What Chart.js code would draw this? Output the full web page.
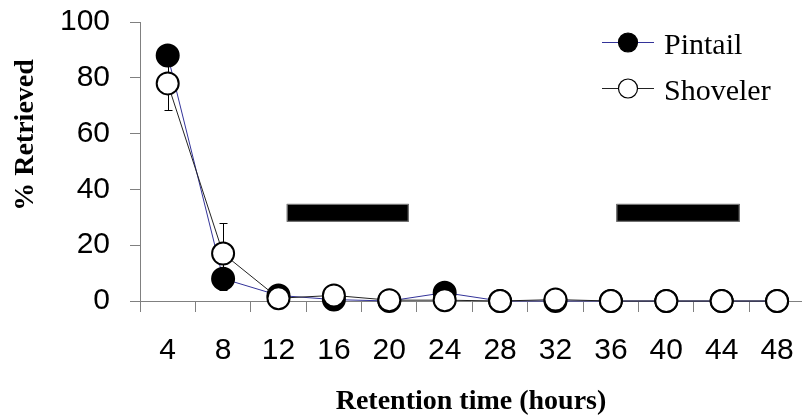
<!DOCTYPE html>
<html>
<head>
<meta charset="utf-8">
<title>% Retrieved by retention time</title>
<script src="https://cdn.jsdelivr.net/npm/chart.js@4.4.1/dist/chart.umd.min.js"></script>
<style>
  html, body { margin: 0; padding: 0; background: #ffffff; }
  #chart { display: block; }
</style>
</head>
<body>
<canvas id="chart" width="802" height="419"></canvas>
<script>
const hours = [4, 8, 12, 16, 20, 24, 28, 32, 36, 40, 44, 48];
const pintail = [88, 8, 2, 0.5, 0, 3, 0, 0, 0, 0, 0, 0];
const pintailErr = [3.5, 4, 0, 0, 0, 0, 0, 0, 0, 0, 0, 0];
const shoveler = [78, 17, 1, 2, 0.3, 0.3, 0, 0.5, 0, 0, 0, 0];
const shovelerErr = [9.6, 10.8, 0, 0, 0, 0, 0, 0, 0, 0, 0, 0];

// dark periods (hours from / to) and their vertical span in % units
const darkStart = [12.6, 36.4];
const darkEnd = [21.4, 45.3];
const darkLow = [28.4, 28.4];
const darkHigh = [34.8, 34.8];

const yTicks = [0, 20, 40, 60, 80, 100];
const xTickMarks = [2, 4, 6, 8, 10, 12, 14, 16, 18, 20, 22, 24, 26, 28, 30, 32, 34, 36, 38, 40, 42, 44, 46, 48];

const axisGray = "#808080";
const serif = "'Liberation Serif', 'Times New Roman', serif";
const sans = "'Liberation Sans', Arial, sans-serif";

function toPoints(values) {
  return values.map((v, i) => ({ x: hours[i], y: v }));
}

const darkBarsPlugin = {
  id: "darkBars",
  beforeDatasetsDraw(chart) {
    const ctx = chart.ctx;
    const x = chart.scales.x;
    const y = chart.scales.y;
    ctx.save();
    darkStart.forEach((start, i) => {
      const left = x.getPixelForValue(start);
      const right = x.getPixelForValue(darkEnd[i]);
      const top = y.getPixelForValue(darkHigh[i]);
      const bottom = y.getPixelForValue(darkLow[i]);
      ctx.fillStyle = "#000000";
      ctx.fillRect(left, top, right - left, bottom - top);
      ctx.strokeStyle = axisGray;
      ctx.lineWidth = 1;
      ctx.strokeRect(left + 0.5, top + 0.5, right - left - 1, bottom - top - 1);
    });
    ctx.restore();
  }
};

const errorBarsPlugin = {
  id: "errorBars",
  beforeDatasetsDraw(chart) {
    const ctx = chart.ctx;
    const x = chart.scales.x;
    const y = chart.scales.y;
    ctx.save();
    ctx.strokeStyle = "#000000";
    ctx.lineWidth = 1;
    chart.data.datasets.forEach(ds => {
      ds.errors.forEach((err, i) => {
        if (!err) return;
        const px = Math.round(x.getPixelForValue(hours[i])) + 0.5;
        const hi = y.getPixelForValue(ds.values[i] + err);
        const lo = y.getPixelForValue(ds.values[i] - err);
        ctx.beginPath();
        ctx.moveTo(px, hi);
        ctx.lineTo(px, lo);
        ctx.moveTo(px - 4, Math.round(hi) + 0.5);
        ctx.lineTo(px + 4, Math.round(hi) + 0.5);
        ctx.moveTo(px - 4, Math.round(lo) + 0.5);
        ctx.lineTo(px + 4, Math.round(lo) + 0.5);
        ctx.stroke();
      });
    });
    ctx.restore();
  }
};

const labelsPlugin = {
  id: "labelsAndLegend",
  afterDraw(chart) {
    const ctx = chart.ctx;
    const area = chart.chartArea;
    ctx.save();

    // axis titles
    ctx.fillStyle = "#000000";
    ctx.font = "bold 28px " + serif;
    ctx.textAlign = "center";
    ctx.textBaseline = "alphabetic";
    ctx.fillText("Retention time (hours)", (area.left + area.right) / 2, 409);

    ctx.save();
    ctx.translate(33, 135);
    ctx.rotate(-Math.PI / 2);
    ctx.fillText("% Retrieved", 0, 0);
    ctx.restore();

    // legend
    const rows = [42, 88];
    chart.data.datasets.forEach((ds, i) => {
      const ry = rows[i] + 0.5;
      ctx.strokeStyle = ds.borderColor;
      ctx.lineWidth = 1;
      ctx.beginPath();
      ctx.moveTo(602, ry);
      ctx.lineTo(654, ry);
      ctx.stroke();

      ctx.beginPath();
      ctx.arc(628, ry, 9.5, 0, Math.PI * 2);
      ctx.fillStyle = ds.pointBackgroundColor;
      ctx.fill();
      ctx.strokeStyle = "#000000";
      ctx.lineWidth = 1.2;
      ctx.stroke();

      ctx.fillStyle = "#000000";
      ctx.font = "30px " + serif;
      ctx.textAlign = "left";
      ctx.fillText(ds.label, 664, rows[i] + 12);
    });

    ctx.restore();
  }
};

new Chart(document.getElementById("chart"), {
  type: "line",
  data: {
    datasets: [
      {
        label: "Pintail",
        data: toPoints(pintail),
        values: pintail,
        errors: pintailErr,
        borderColor: "#333399",
        borderWidth: 1,
        pointRadius: 11,
        pointBorderWidth: 2,
        pointBackgroundColor: "#000000",
        pointBorderColor: "#000000",
        clip: false,
        order: 2
      },
      {
        label: "Shoveler",
        data: toPoints(shoveler),
        values: shoveler,
        errors: shovelerErr,
        borderColor: "#222222",
        borderWidth: 1,
        pointRadius: 11,
        pointBorderWidth: 2,
        pointBackgroundColor: "#ffffff",
        pointBorderColor: "#000000",
        clip: false,
        order: 1
      }
    ]
  },
  options: {
    responsive: false,
    animation: false,
    devicePixelRatio: 1,
    layout: { autoPadding: false, padding: { top: 22, right: 0, bottom: 0, left: 0 } },
    plugins: {
      legend: { display: false },
      tooltip: { enabled: false }
    },
    scales: {
      x: {
        type: "linear",
        min: 2,
        max: 49.8,
        afterBuildTicks: scale => {
          scale.ticks = xTickMarks.map(v => ({ value: v }));
        },
        afterFit: scale => {
          scale.height = 118;
          scale.paddingLeft = 0;
          scale.paddingRight = 0;
        },
        border: { color: axisGray, width: 1 },
        grid: {
          drawOnChartArea: false,
          tickLength: 11,
          tickColor: ctx => (ctx.tick && ctx.tick.value % 4 === 2 ? axisGray : "rgba(0,0,0,0)")
        },
        ticks: {
          autoSkip: false,
          maxRotation: 0,
          padding: 21,
          color: "#000000",
          font: { family: sans, size: 30 },
          callback: v => (v % 4 === 0 ? String(v) : "")
        }
      },
      y: {
        min: 0,
        max: 100,
        afterBuildTicks: scale => {
          scale.ticks = yTicks.map(v => ({ value: v }));
        },
        afterFit: scale => {
          scale.width = 140;
          scale.paddingTop = 0;
          scale.paddingBottom = 0;
        },
        border: { color: axisGray, width: 1 },
        grid: {
          drawOnChartArea: false,
          tickLength: 10,
          tickColor: axisGray
        },
        ticks: {
          padding: 20,
          color: "#000000",
          font: { family: sans, size: 30 }
        }
      }
    }
  },
  plugins: [darkBarsPlugin, errorBarsPlugin, labelsPlugin]
});
</script>
</body>
</html>
